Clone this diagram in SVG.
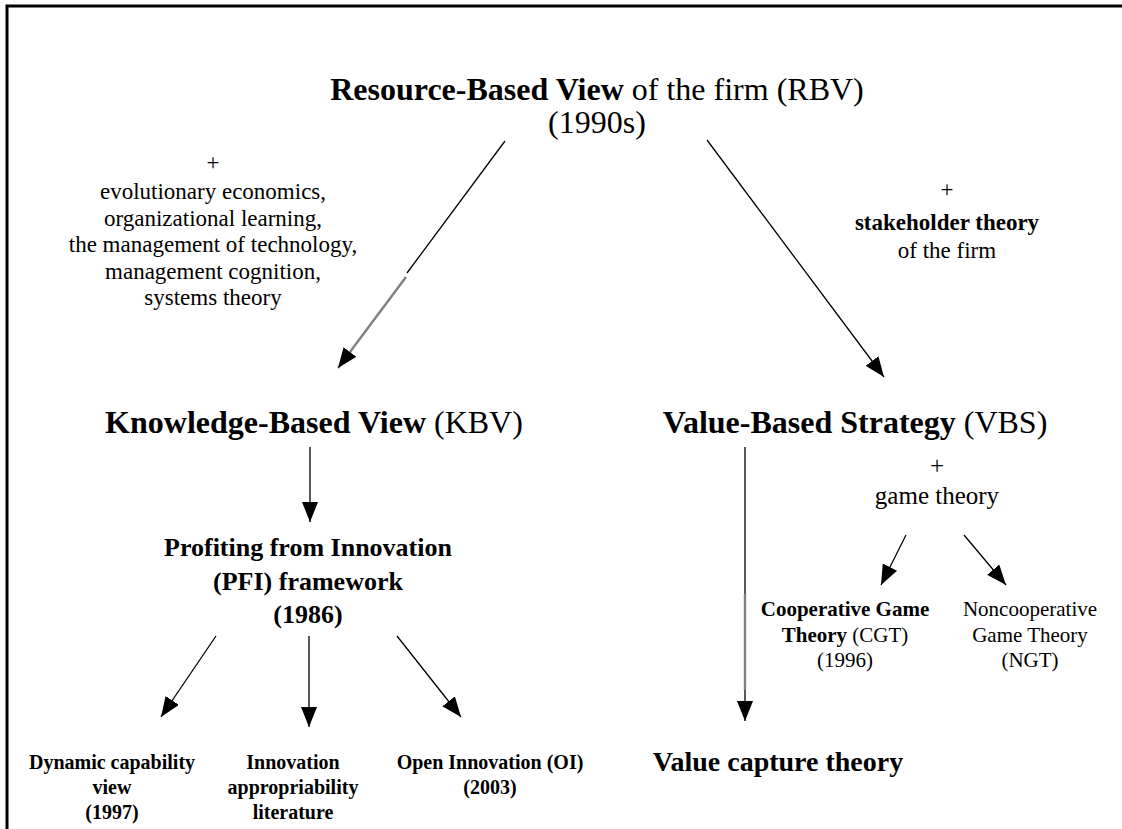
<svg xmlns="http://www.w3.org/2000/svg" width="1122" height="829" viewBox="0 0 1122 829">
<defs>
<style>
text{font-family:"Liberation Serif","Times New Roman",serif;fill:#000;text-anchor:middle}
.b{font-weight:bold}
.t{font-size:32px}
.h{font-size:32px}
.a{font-size:23px}
.gt{font-size:25px}
.p{font-size:26px}
.s{font-size:20px}
.c{font-size:21px}
.v{font-size:28px}
.ln{stroke:#000;stroke-width:1.3;fill:none}
.g{stroke:#808080;stroke-width:2.4;fill:none}
</style>
<marker id="ah" viewBox="0 0 20 16" refX="20" refY="8" markerWidth="20" markerHeight="16" markerUnits="userSpaceOnUse" orient="auto">
<path d="M0,0 L20,8 L0,16 z" fill="#000"/>
</marker>
</defs>
<rect width="1122" height="829" fill="#fff"/>
<path d="M7,829 V6 H1122" stroke="#000" stroke-width="3" fill="none"/>

<g id="rbv">
<text class="t" x="597" y="100"><tspan class="b">Resource-Based View</tspan> of the firm (RBV)</text>
<text class="t" x="597" y="133">(1990s)</text>
</g>
<g id="note-left">
<text class="a" x="213" y="170">+</text>
<text class="a" x="213" y="199">evolutionary economics,</text>
<text class="a" x="213" y="226">organizational learning,</text>
<text class="a" x="213" y="252">the management of technology,</text>
<text class="a" x="213" y="279">management cognition,</text>
<text class="a" x="213" y="305">systems theory</text>
</g>
<g id="note-right">
<text class="a" x="947" y="197">+</text>
<text class="a b" x="947" y="230">stakeholder theory</text>
<text class="a" x="947" y="258">of the firm</text>
</g>
<g id="kbv">
<text class="h" x="314" y="433"><tspan class="b">Knowledge-Based View</tspan> (KBV)</text>
</g>
<g id="vbs">
<text class="h" x="855" y="433"><tspan class="b">Value-Based Strategy</tspan> (VBS)</text>
</g>
<g id="pfi">
<text class="p b" x="308" y="556">Profiting from Innovation</text>
<text class="p b" x="308" y="590">(PFI) framework</text>
<text class="p b" x="308" y="623">(1986)</text>
</g>
<g id="dcv">
<text class="s b" x="112" y="769">Dynamic capability</text>
<text class="s b" x="112" y="794">view</text>
<text class="s b" x="112" y="819">(1997)</text>
</g>
<g id="iap">
<text class="s b" x="293" y="769">Innovation</text>
<text class="s b" x="293" y="794">appropriability</text>
<text class="s b" x="293" y="819">literature</text>
</g>
<g id="oi">
<text class="s b" x="490" y="769">Open Innovation (OI)</text>
<text class="s b" x="490" y="794">(2003)</text>
</g>
<g id="game">
<text class="gt" x="937" y="474">+</text>
<text class="gt" x="937" y="504">game theory</text>
</g>
<g id="cgt">
<text class="c" x="845" y="616"><tspan class="b">Cooperative Game</tspan></text>
<text class="c" x="845" y="642"><tspan class="b">Theory</tspan> (CGT)</text>
<text class="c" x="845" y="667">(1996)</text>
</g>
<g id="ngt">
<text class="c" x="1030" y="616">Noncooperative</text>
<text class="c" x="1030" y="642">Game Theory</text>
<text class="c" x="1030" y="667">(NGT)</text>
</g>
<g id="vct">
<text class="v b" x="778" y="771">Value capture theory</text>
</g>

<g id="connectors">
<line class="ln" x1="505" y1="141" x2="407" y2="273"/>
<line class="g" x1="406" y1="277" x2="338" y2="368" marker-end="url(#ah)"/>
<line class="ln" x1="707" y1="140" x2="884" y2="377" marker-end="url(#ah)"/>
<line class="ln" x1="310" y1="447" x2="310" y2="522" marker-end="url(#ah)"/>
<line class="ln" x1="216" y1="636" x2="161" y2="717" marker-end="url(#ah)"/>
<line class="ln" x1="309" y1="636" x2="309" y2="727" marker-end="url(#ah)"/>
<line class="ln" x1="397" y1="636" x2="461" y2="717" marker-end="url(#ah)"/>
<line class="ln" x1="745" y1="447" x2="745" y2="594"/>
<line class="g" x1="745" y1="594" x2="745" y2="690"/>
<line class="ln" x1="745" y1="690" x2="745" y2="721" marker-end="url(#ah)"/>
<line class="ln" x1="906" y1="535" x2="881" y2="585" marker-end="url(#ah)"/>
<line class="ln" x1="964" y1="535" x2="1006" y2="585" marker-end="url(#ah)"/>
</g>
</svg>
